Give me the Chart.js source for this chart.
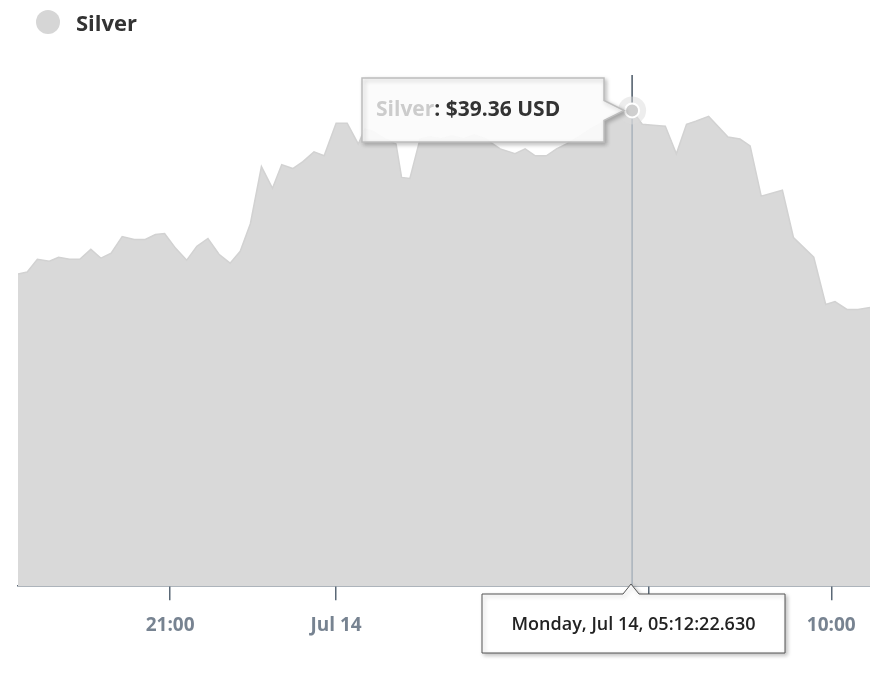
<!DOCTYPE html>
<html><head><meta charset="utf-8">
<script src="https://cdn.jsdelivr.net/npm/chart.js@4"></script>
<style>
body{margin:0;background:#fff;font-family:"Open Sans",sans-serif}
#wrap{position:relative;width:870px;height:675px}
#legend{position:absolute;left:36px;top:7px;font:700 22px "Open Sans";color:#333;display:flex;align-items:center}
#legend span{display:inline-block;width:24px;height:24px;border-radius:50%;background:#d6d6d6;margin-right:16px}
</style></head><body>
<div id="wrap"><canvas id="c" width="870" height="675"></canvas>
<div id="legend"><span></span>Silver</div></div>
<script>
// minutes relative to Jul 14 00:00
const times=[-345,-335,-324,-311,-301,-289,-278,-266,-255,-244,-232,-219,-207,-196,-186,-174,-162,-151,-139,-127,-115,-104,-93,-81,-69,-59,-47,-36,-24,-13,0,12,24,31,39,53,65,71,80,91,102,114,126,138,150,162,178,194,205,216,228,239,250,265,276,286,299,310,321,332,344,357,369,380,390,404,425,438,449,461,484,496,518,531,541,554,566,579];
const prices=[38.53,38.54,38.605,38.595,38.615,38.605,38.605,38.655,38.61,38.635,38.72,38.705,38.705,38.73,38.735,38.66,38.60,38.67,38.71,38.63,38.585,38.645,38.785,39.075,38.965,39.085,39.065,39.10,39.15,39.13,39.295,39.295,39.19,39.265,39.255,39.215,39.19,39.02,39.015,39.215,39.225,39.215,39.23,39.215,39.235,39.215,39.165,39.14,39.165,39.13,39.13,39.165,39.19,39.23,39.265,39.29,39.34,39.355,39.36,39.29,39.285,39.28,39.14,39.29,39.305,39.33,39.225,39.215,39.18,38.925,38.955,38.715,38.615,38.375,38.39,38.35,38.35,38.36];
const tickValues=[-180,0,339,537];
const tickLabels=["21:00","Jul 14","06:00","10:00"];
const hoverIndex=58;
const valueText="$39.36 USD";
const dateText="Monday, Jul 14, 05:12:22.630";

const tipPlugin={id:'tip',afterDraw(ch){
  const ctx=ch.ctx,ca=ch.chartArea;
  const px=ch.scales.x.getPixelForValue(times[hoverIndex]);
  const py=ch.scales.y.getPixelForValue(prices[hoverIndex]);
  ctx.save();
  ctx.strokeStyle='#a9b2bb';ctx.lineWidth=1.5;
  ctx.beginPath();ctx.moveTo(px,py);ctx.lineTo(px,ca.bottom);ctx.stroke();
  ctx.strokeStyle='#4a5866';ctx.beginPath();ctx.moveTo(px,ca.top);ctx.lineTo(px,py);ctx.stroke();
  ctx.fillStyle='rgba(220,220,220,0.5)';ctx.beginPath();ctx.arc(px,py,14,0,Math.PI*2);ctx.fill();
  ctx.fillStyle='#cfcfcf';ctx.strokeStyle='#fff';ctx.lineWidth=2;ctx.beginPath();ctx.arc(px,py,7,0,Math.PI*2);ctx.fill();ctx.stroke();
  const bx=362,by=78,bw=242,bh=64;
  ctx.shadowColor='rgba(0,0,0,0.25)';ctx.shadowBlur=4;ctx.shadowOffsetX=2;ctx.shadowOffsetY=2;
  ctx.fillStyle='rgba(255,255,255,0.92)';ctx.strokeStyle='#bdbdbd';ctx.lineWidth=1.5;
  ctx.beginPath();ctx.moveTo(bx,by);ctx.lineTo(bx+bw,by);ctx.lineTo(bx+bw,py-10);ctx.lineTo(px-8,py);ctx.lineTo(bx+bw,py+10);ctx.lineTo(bx+bw,by+bh);ctx.lineTo(bx,by+bh);ctx.closePath();ctx.fill();ctx.stroke();
  ctx.shadowColor='transparent';
  ctx.font='700 21px "Open Sans"';ctx.textBaseline='middle';
  ctx.fillStyle='#cccccc';ctx.fillText('Silver',376,110);
  const w=ctx.measureText('Silver').width;
  ctx.fillStyle='#333';ctx.fillText(': '+valueText,376+w,110);
  const dx=482,dy=594,dw=303,dh=59,ax=631;
  ctx.shadowColor='rgba(0,0,0,0.25)';ctx.shadowBlur=4;ctx.shadowOffsetX=2;ctx.shadowOffsetY=2;
  ctx.fillStyle='#fff';ctx.strokeStyle='#555';ctx.lineWidth=1;
  ctx.beginPath();ctx.moveTo(dx,dy);ctx.lineTo(ax-8,dy);ctx.lineTo(ax,dy-10);ctx.lineTo(ax+8,dy);ctx.lineTo(dx+dw,dy);ctx.lineTo(dx+dw,dy+dh);ctx.lineTo(dx,dy+dh);ctx.closePath();ctx.fill();ctx.stroke();
  ctx.shadowColor='transparent';
  ctx.font='600 18px "Open Sans"';ctx.fillStyle='#222';ctx.textAlign='center';
  ctx.fillText(dateText,dx+dw/2,dy+31);
  ctx.restore();
}};
new Chart(document.getElementById('c'),{
  type:'line',
  data:{datasets:[{data:times.map((t,i)=>({x:t,y:prices[i]})),fill:'start',backgroundColor:'#d9d9d9',borderColor:'#d2d2d2',borderWidth:1.5,pointRadius:0,tension:0}]},
  options:{responsive:false,animation:false,events:[],
    layout:{padding:{left:18,right:0,top:75,bottom:24}},
    plugins:{legend:{display:false},tooltip:{enabled:false}},
    scales:{
      x:{type:'linear',min:-345,max:579,
        afterBuildTicks:a=>{a.ticks=tickValues.map(v=>({value:v}));},
        ticks:{callback:(v)=>tickLabels[tickValues.indexOf(v)],color:'#778391',font:{family:'Open Sans',size:19,weight:'700'},padding:14,maxRotation:0,autoSkip:false},
        grid:{display:true,drawOnChartArea:false,color:'#5a6876',tickLength:14,lineWidth:1.5},
        border:{color:'#5a6876',width:1.5}},
      y:{display:false,min:36.945,max:39.54}
    }},
  plugins:[tipPlugin]
});
</script></body></html>
